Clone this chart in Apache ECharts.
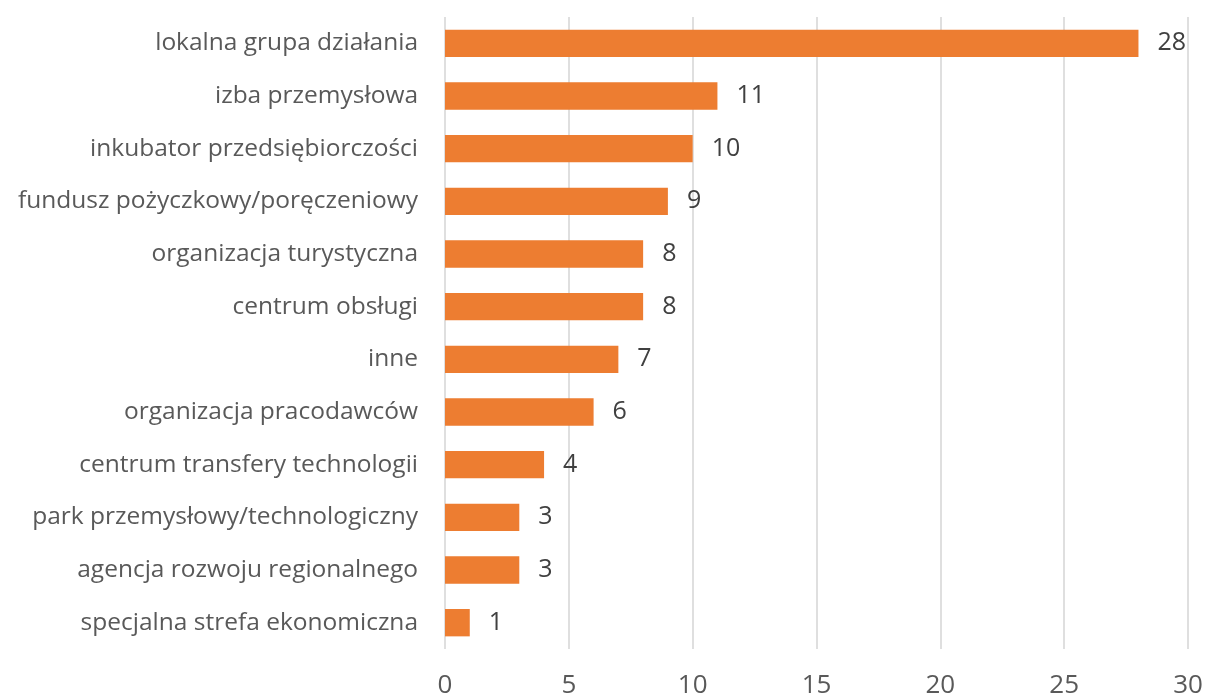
<!DOCTYPE html>
<html>
<head>
<meta charset="utf-8">
<script src="https://cdn.jsdelivr.net/npm/echarts@6/dist/echarts.min.js"></script>
<style>
  html, body { margin: 0; padding: 0; background: #fff; }
  #chart { width: 1208px; height: 697px; }
</style>
</head>
<body>
<div id="chart"></div>
<script>
// kategorie od góry do dołu
const categories = [
  'lokalna grupa działania',
  'izba przemysłowa',
  'inkubator przedsiębiorczości',
  'fundusz pożyczkowy/poręczeniowy',
  'organizacja turystyczna',
  'centrum obsługi',
  'inne',
  'organizacja pracodawców',
  'centrum transfery technologii',
  'park przemysłowy/technologiczny',
  'agencja rozwoju regionalnego',
  'specjalna strefa ekonomiczna'
]
const values = [28, 11, 10, 9, 8, 8, 7, 6, 4, 3, 3, 1]

const chart = echarts.init(document.getElementById('chart'), null, { renderer: 'canvas' })

const option = {
  animation: false,
  grid: { left: 445, right: 20, top: 17, bottom: 48, outerBoundsMode: 'none', containLabel: false },
  xAxis: {
    type: 'value',
    min: 0,
    max: 30,
    interval: 5,
    axisLine: { show: false },
    axisTick: { show: false },
    axisLabel: {
      margin: 24,
      color: '#595959',
      fontSize: 26,
      fontFamily: 'Open Sans'
    },
    splitLine: { lineStyle: { color: '#d4d4d4', width: 1.5 } }
  },
  yAxis: {
    type: 'category',
    inverse: true,
    data: categories,
    axisLine: { show: false },
    axisTick: { show: false },
    axisLabel: {
      margin: 27,
      color: '#595959',
      fontSize: 24.5,
      fontFamily: 'Open Sans'
    }
  },
  series: [
    {
      type: 'bar',
      data: values,
      barCategoryGap: '48%',
      itemStyle: { color: '#ED7D31' },
      label: {
        show: true,
        position: 'right',
        distance: 19,
        color: '#404040',
        fontSize: 25,
        fontFamily: 'Open Sans'
      }
    }
  ]
}

chart.setOption(option)
</script>
</body>
</html>
